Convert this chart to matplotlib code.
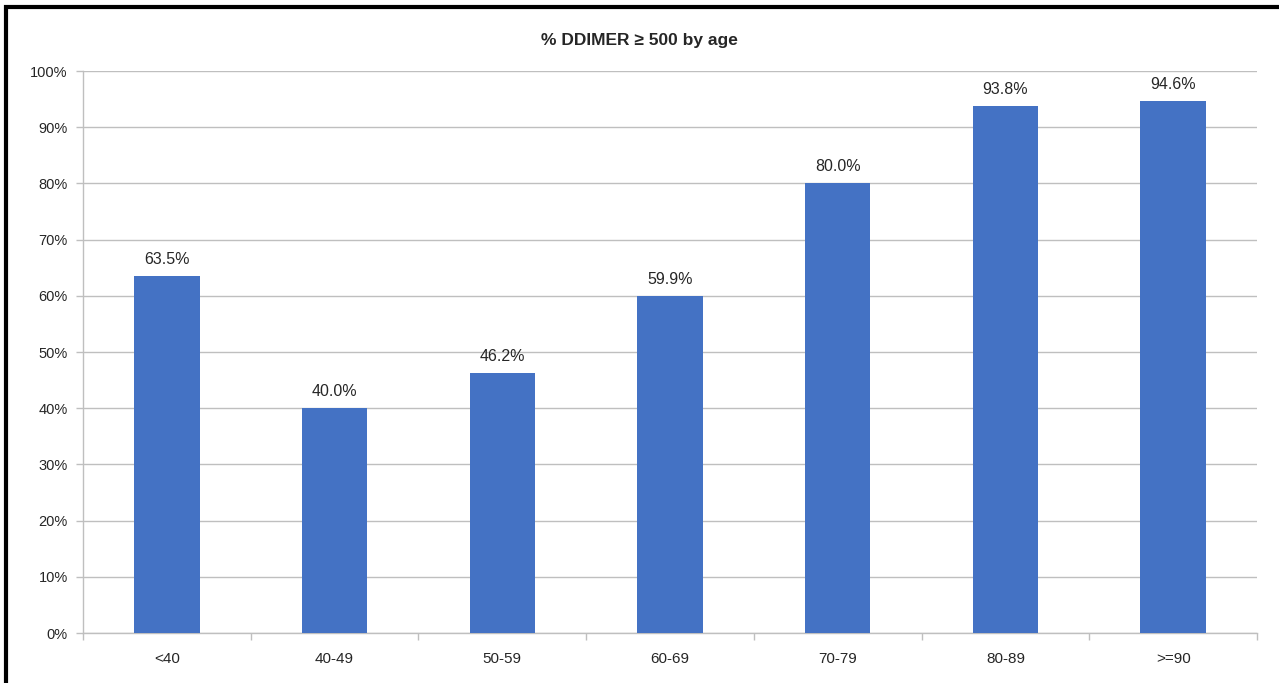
import matplotlib.pyplot as plt
import matplotlib.patches as mpatches
import numpy as np

age_groups = ["<40", "40-49", "50-59", "60-69", "70-79", "80-89", ">=90"]
pct_ddimer = [63.5, 40.0, 46.2, 59.9, 80.0, 93.8, 94.6]
y_ticks = [0, 10, 20, 30, 40, 50, 60, 70, 80, 90, 100]

plt.rcParams["font.family"] = ["Liberation Sans", "DejaVu Sans"]

fig = plt.figure(figsize=(12.79, 6.83), dpi=100)
ax = fig.add_axes([0.0649, 0.0732, 0.9179, 0.8228])

x = np.arange(len(age_groups))
ax.bar(x, pct_ddimer, width=0.39, color="#4472C4", zorder=3)
for xi, v in zip(x, pct_ddimer):
    ax.text(xi, v + 1.6, f"{v:.1f}%", ha="center", va="bottom", fontsize=11.5, color="#262626")

ax.set_xlim(-0.5, len(age_groups) - 0.5)
ax.set_ylim(0, 100)
ax.set_yticks(y_ticks)
ax.set_yticklabels([f"{t}%" for t in y_ticks], fontsize=10.5, color="#262626")
ax.set_xticks(x)
ax.set_xticklabels(age_groups, fontsize=11, color="#262626")
ax.tick_params(axis="x", which="major", length=0, pad=14)
ax.set_xticks(np.arange(-0.5, len(age_groups)), minor=True)
ax.tick_params(axis="x", which="minor", length=5, color="#BFBFBF", width=1)
ax.tick_params(axis="y", length=5, color="#BFBFBF", width=1, pad=6)
ax.grid(axis="y", color="#BFBFBF", linewidth=1, zorder=0)

for side in ["top", "right"]:
    ax.spines[side].set_visible(False)
for side in ["left", "bottom"]:
    ax.spines[side].set_color("#BFBFBF")
    ax.spines[side].set_linewidth(1)

fig.text(0.5, 0.94, "% DDIMER ≥ 500 by age", ha="center", va="center",
         fontsize=12.5, fontweight="bold", color="#262626")

# outer frame, only its left and top edges fall inside the canvas
frame = mpatches.Rectangle((6 / 1279, -0.1), 1.2, (683 - 7) / 683 + 0.1,
                           transform=fig.transFigure, fill=False,
                           edgecolor="black", linewidth=3)
fig.patches.append(frame)

fig.savefig("out.png", dpi=100)
